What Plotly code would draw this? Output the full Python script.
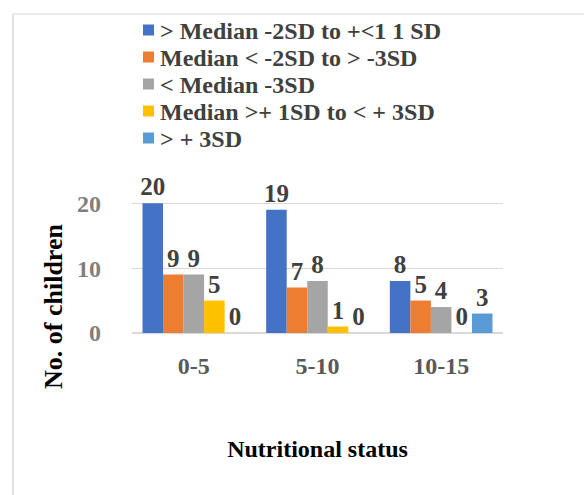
import plotly.graph_objects as go

categories = ["0-5", "5-10", "10-15"]
series_names = [
    "> Median -2SD to +<1 1 SD",
    "Median < -2SD to > -3SD",
    "< Median -3SD",
    "Median >+ 1SD to < + 3SD",
    "> + 3SD",
]
s1 = [20, 19, 8]
s2 = [9, 7, 5]
s3 = [9, 8, 4]
s4 = [5, 1, 0]
s5 = [0, 0, 3]
colors = ["#4472C4", "#ED7D31", "#A5A5A5", "#FFC000", "#5B9BD5"]
y_ticks = [0, 10, 20]
y_title = "No. of children"
x_title = "Nutritional status"

FONT = "Times New Roman"
W, H = 584, 495
L, R, T, B = 132, 81, 187, 162

fig = go.Figure()
for name, vals, col in zip(series_names, [s1, s2, s3, s4, s5], colors):
    fig.add_trace(go.Bar(
        x=categories, y=vals, name=name,
        marker=dict(color=col, line=dict(width=0)),
        text=[str(v) for v in vals], textposition="outside",
        constraintext="none",
        textfont=dict(family=FONT, size=25, color="#404040", weight="bold"),
        cliponaxis=False, showlegend=False,
    ))

pw = W - L - R
ph = H - T - B
def px(x):
    return (x - L) / pw
def py(y):
    return (H - B - y) / ph

# legend drawn as colored squares + labels in the header area
legend_top, legend_step = 30, 27
shapes = []
annotations = []
for i, (name, col) in enumerate(zip(series_names, colors)):
    yc = legend_top + i * legend_step
    shapes.append(dict(type="rect", xref="paper", yref="paper",
                       x0=px(143), x1=px(154), y0=py(yc - 5.5), y1=py(yc + 5.5),
                       fillcolor=col, line=dict(width=0)))
    annotations.append(dict(text=name, xref="paper", yref="paper",
                            x=px(158), y=py(yc + 1), xanchor="left", yanchor="middle",
                            showarrow=False,
                            font=dict(family=FONT, size=24, color="#404040", weight="bold")))

annotations.append(dict(text=y_title, xref="paper", yref="paper",
                        x=px(53), y=py(307), xanchor="center", yanchor="middle",
                        textangle=-90, showarrow=False,
                        font=dict(family=FONT, size=26, color="#000000", weight="bold")))

shapes += [
    dict(type="line", xref="paper", yref="paper",
         x0=px(13), x1=px(13), y0=py(14), y1=py(500),
         line=dict(color="#d9d9d9", width=1.5)),
    dict(type="line", xref="paper", yref="paper",
         x0=px(13), x1=px(590), y0=py(14), y1=py(14),
         line=dict(color="#e6e6e6", width=1.5)),
]

fig.update_layout(
    width=W, height=H,
    margin=dict(l=L, r=R, t=T, b=B),
    paper_bgcolor="white", plot_bgcolor="white",
    barmode="group", bargap=0.17, bargroupgap=0,
    font=dict(family=FONT, size=18, color="#595959"),
    showlegend=False,
    xaxis=dict(
        showgrid=False, showline=False, zeroline=False, ticks="",
        ticklabelstandoff=16,
        tickfont=dict(family=FONT, size=24, color="#595959", weight="bold"),
        title=dict(text=x_title, standoff=62,
                   font=dict(family=FONT, size=24, color="#000000", weight="bold")),
    ),
    yaxis=dict(
        range=[0, 22.5], tickvals=y_ticks,
        showgrid=True, gridcolor="#d9d9d9", gridwidth=1,
        zeroline=True, zerolinecolor="#d9d9d9", showline=False, ticks="",
        ticklabelstandoff=30,
        tickfont=dict(family=FONT, size=24, color="#7f7f7f", weight="bold"),
    ),
    shapes=shapes,
    annotations=annotations,
)

fig.write_html("out.html", config={"displayModeBar": False},
               post_script="document.body.style.margin='0';")
